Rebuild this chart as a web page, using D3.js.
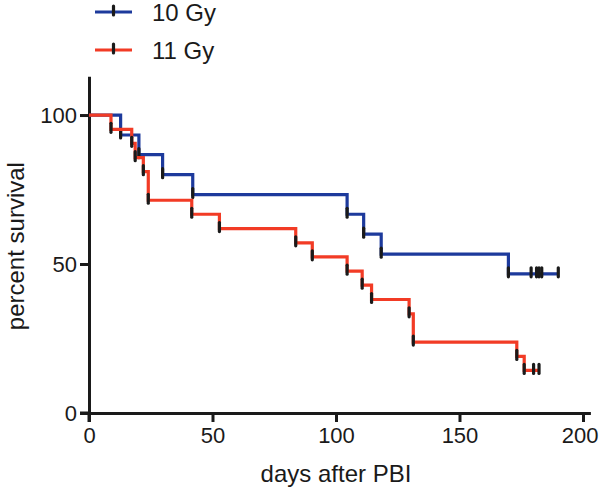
<!DOCTYPE html>
<html>
<head>
<meta charset="utf-8">
<script src="https://cdn.jsdelivr.net/npm/d3@7"></script>
<style>
  html, body { margin: 0; padding: 0; background: #fff; }
  svg { display: block; font-family: "Liberation Sans", Arial, sans-serif; }
</style>
</head>
<body>
<svg id="chart" width="600" height="493"></svg>
<script>
// ---- data ----
const seriesNames = ["10 Gy", "11 Gy"];
const seriesColors = ["#1d3a9c", "#f23b25"];

const tenGyDays = [0, 12.8, 20.2, 29.8, 42, 104.5, 111.2, 118.3, 169.8, 190];
const tenGySurv = [100, 93.3, 86.7, 80, 73.3, 66.7, 60, 53.3, 46.7, 46.7];
const tenGyCensored = [179, 181.2, 182.2, 183.3, 190];

const elevenGyDays = [0, 8.9, 17.3, 18.7, 22, 24, 41.6, 52.8, 83.7, 90.4, 104.5, 110.6, 114.4, 129.6, 131.3, 173.2, 176.2, 182.2];
const elevenGySurv = [100, 95.2, 90.5, 85.7, 81.0, 71.4, 66.7, 61.9, 57.1, 52.4, 47.6, 42.9, 38.1, 33.3, 23.8, 19.0, 14.3, 14.3];
const elevenGyCensored = [180, 182.2];

const xTicks = [0, 50, 100, 150, 200];
const yTicks = [0, 50, 100];
const xTitle = "days after PBI";
const yTitle = "percent survival";

// ---- layout ----
const svg = d3.select("#chart");
const x = d3.scaleLinear().domain([0, 203]).range([89, 590.4]);
const y = d3.scaleLinear().domain([0, 113]).range([413, 76.3]);

const series = [
  { name: seriesNames[0], color: seriesColors[0], days: tenGyDays, surv: tenGySurv, cens: tenGyCensored },
  { name: seriesNames[1], color: seriesColors[1], days: elevenGyDays, surv: elevenGySurv, cens: elevenGyCensored }
];

// axes
const xAxis = svg.append("g").attr("transform", `translate(0,${y(0)})`)
  .call(d3.axisBottom(x).tickValues(xTicks).tickSize(9).tickPadding(5).tickSizeOuter(0));
const yAxis = svg.append("g").attr("transform", `translate(${x(0)},0)`)
  .call(d3.axisLeft(y).tickValues(yTicks).tickSize(9).tickPadding(3).tickSizeOuter(0));

[xAxis, yAxis].forEach(g => {
  g.select(".domain").attr("stroke", "#1a1a1a").attr("stroke-width", 3);
  g.selectAll(".tick line").attr("stroke", "#1a1a1a").attr("stroke-width", 3);
  g.selectAll(".tick text").attr("fill", "#1a1a1a").style("font-size", "22px")
    .style("font-family", "'Liberation Sans', Arial, sans-serif");
});
// keep the last x label inside the frame, as in the reference
xAxis.selectAll(".tick text").filter(d => d === 200).attr("text-anchor", "end").attr("x", 15);
xAxis.append("line").attr("x1", x(0) - 9).attr("x2", x(0)).attr("y1", 0).attr("y2", 0)
  .attr("stroke", "#1a1a1a").attr("stroke-width", 3);
yAxis.append("line").attr("x1", 0).attr("x2", 0).attr("y1", y(0)).attr("y2", y(0) + 9)
  .attr("stroke", "#1a1a1a").attr("stroke-width", 3);

// titles
svg.append("text").attr("x", (x(0) + x(200)) / 2).attr("y", 482)
  .attr("text-anchor", "middle").style("font-size", "24px").attr("fill", "#1a1a1a").text(xTitle);
svg.append("text").attr("transform", `translate(24,${y(56)}) rotate(-90)`)
  .attr("text-anchor", "middle").style("font-size", "24px").attr("fill", "#1a1a1a").text(yTitle);

// survival curves
const line = d3.line().x(d => x(d[0])).y(d => y(d[1])).curve(d3.curveStepAfter);
const tick = (g, px, py) => g.append("line")
  .attr("x1", px).attr("x2", px).attr("y1", py - 6).attr("y2", py + 3)
  .attr("stroke", "#1a1a1a").attr("stroke-width", 3.2).attr("stroke-linecap", "round");

series.forEach(s => {
  const pts = s.days.map((d, i) => [d, s.surv[i]]);
  const g = svg.append("g");
  g.append("path").attr("d", line(pts)).attr("fill", "none")
    .attr("stroke", s.color).attr("stroke-width", 3.2).attr("stroke-linejoin", "miter");
  for (let i = 1; i < pts.length; i++) {
    if (pts[i][1] < pts[i - 1][1]) tick(g, x(pts[i][0]), y(pts[i][1]));
  }
  const last = s.surv[s.surv.length - 1];
  s.cens.forEach(c => tick(g, x(c), y(last)));
});

// legend
const leg = svg.append("g");
series.forEach((s, i) => {
  const ly = 12 + i * 38;
  leg.append("line").attr("x1", 95).attr("x2", 132).attr("y1", ly).attr("y2", ly)
    .attr("stroke", s.color).attr("stroke-width", 3.2);
  tick(leg, 113.5, ly);
  leg.append("text").attr("x", 152).attr("y", ly + 9).style("font-size", "24px")
    .attr("fill", "#1a1a1a").text(s.name);
});
</script>
</body>
</html>
